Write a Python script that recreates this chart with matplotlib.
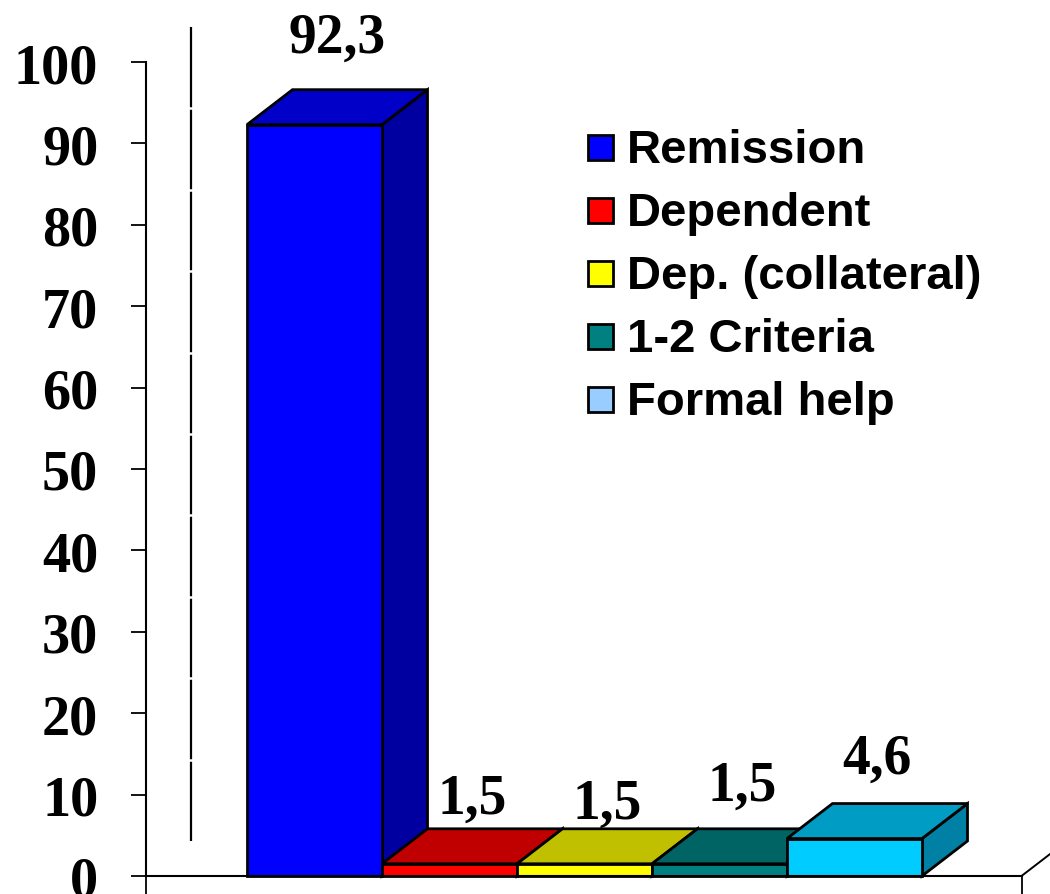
import matplotlib
matplotlib.use("Agg")
import matplotlib.pyplot as plt
from matplotlib.patches import Polygon, Rectangle

# ---- data -------------------------------------------------------------
categories = ["Remission", "Dependent", "Dep. (collateral)", "1-2 Criteria", "Formal help"]
values = [92.3, 1.5, 1.5, 1.5, 4.6]
value_labels = ["92,3", "1,5", "1,5", "1,5", "4,6"]
y_ticks = [0, 10, 20, 30, 40, 50, 60, 70, 80, 90, 100]

# ---- styling ----------------------------------------------------------
front_colors = ["#0000FF", "#FF0000", "#FFFF00", "#008080", "#00CCFF"]
top_colors = ["#0000C8", "#C00000", "#C0C000", "#006464", "#009CC4"]
side_colors = ["#0000A0", "#A00000", "#A0A000", "#004C4C", "#0080A4"]
legend_colors = ["#0000FF", "#FF0000", "#FFFF00", "#008080", "#99CCFF"]
label_lift_px = [38, 16, 11, 29, 31]   # gap between the bar's back edge and its label

W, H = 1050, 895
SERIF = "Liberation Serif"
SANS = "Liberation Sans"

fig = plt.figure(figsize=(W / 100, H / 100), dpi=100)
fig.patch.set_facecolor("white")

# plot frame in pixels: x 145.5 .. 1021.5, y(0)=877, y(100)=63
ax_left, ax_right, ax_top, ax_bottom = 145.5, 1021.5, 63.0, 877.0
ax = fig.add_axes([ax_left / W, (H - ax_bottom) / H,
                   (ax_right - ax_left) / W, (ax_bottom - ax_top) / H])

bar_px = 135.0
first_center_px = 314.5
xmin = (ax_left - first_center_px) / bar_px
xmax = (ax_right - first_center_px) / bar_px
ax.set_xlim(xmin, xmax)
ax.set_ylim(0, 100)

px_per_x = bar_px
px_per_y = (ax_bottom - ax_top) / 100.0
dx = 45.5 / px_per_x     # depth shift to the right
dy = 35.0 / px_per_y     # depth shift upwards

edge_kw = dict(edgecolor="black", linewidth=2.0, joinstyle="miter", clip_on=False)

# back-left wall edge with small white breaks at the gridline levels
wall_x = xmin + dx
ax.plot([wall_x, wall_x], [dy, 100 + dy], color="black", lw=1.6,
        clip_on=False, zorder=1, solid_capstyle="butt")
for t in y_ticks[1:-1]:
    ax.plot([wall_x - 0.02, wall_x + 0.02], [t + dy, t + dy], color="white",
            lw=1.8, clip_on=False, zorder=1.5, solid_capstyle="butt")

# 3-D style bars, drawn left to right so each one overlaps its left neighbour
for i, v in enumerate(values):
    x0, x1 = i - 0.5, i + 0.5
    z = 3 + i
    side = Polygon([(x1, 0), (x1 + dx, dy), (x1 + dx, v + dy), (x1, v)],
                   closed=True, facecolor=side_colors[i], zorder=z, **edge_kw)
    top = Polygon([(x0, v), (x1, v), (x1 + dx, v + dy), (x0 + dx, v + dy)],
                  closed=True, facecolor=top_colors[i], zorder=z, **edge_kw)
    front = Rectangle((x0, 0), 1.0, v, facecolor=front_colors[i], zorder=z, **edge_kw)
    ax.add_patch(side)
    ax.add_patch(top)
    ax.add_patch(front)
    ax.annotate(value_labels[i], xy=(i + dx / 2, v + dy),
                xytext=(0, label_lift_px[i] * 0.72), textcoords="offset points",
                ha="center", va="baseline", fontsize=40, fontweight="bold",
                family=SERIF, annotation_clip=False, zorder=20)

# floor edge receding at the right end of the category axis
ax.plot([xmax, xmax + dx], [0, dy], color="black", lw=1.4, clip_on=False, zorder=2)

# axes
for s in ("top", "right"):
    ax.spines[s].set_visible(False)
for s in ("left", "bottom"):
    ax.spines[s].set_linewidth(1.5)
    ax.spines[s].set_zorder(30)
ax.set_yticks(y_ticks)
ax.set_yticklabels([str(t) for t in y_ticks], fontsize=40.5, fontweight="bold", family=SERIF)
ax.tick_params(axis="y", direction="out", length=11, width=1.3, pad=23)
ax.set_xticks([xmin, xmax])
ax.set_xticklabels(["", ""])
ax.tick_params(axis="x", direction="out", length=13, width=1.3)
ax.patch.set_alpha(0)

# legend
legend_x_box = 588
legend_x_text = 627
legend_baseline0 = 163
legend_step = 63
box = 25
for k, (name, col) in enumerate(zip(categories, legend_colors)):
    base = legend_baseline0 + k * legend_step
    cy = base - 14.5
    fig.add_artist(Rectangle((legend_x_box / W, (H - cy - box / 2) / H), box / W, box / H,
                             transform=fig.transFigure, facecolor=col,
                             edgecolor="black", linewidth=2.0))
    fig.text(legend_x_text / W, (H - base) / H, name, ha="left", va="baseline",
             fontsize=34, fontweight="bold", family=SANS)

fig.savefig("out.png", dpi=100, facecolor="white")
